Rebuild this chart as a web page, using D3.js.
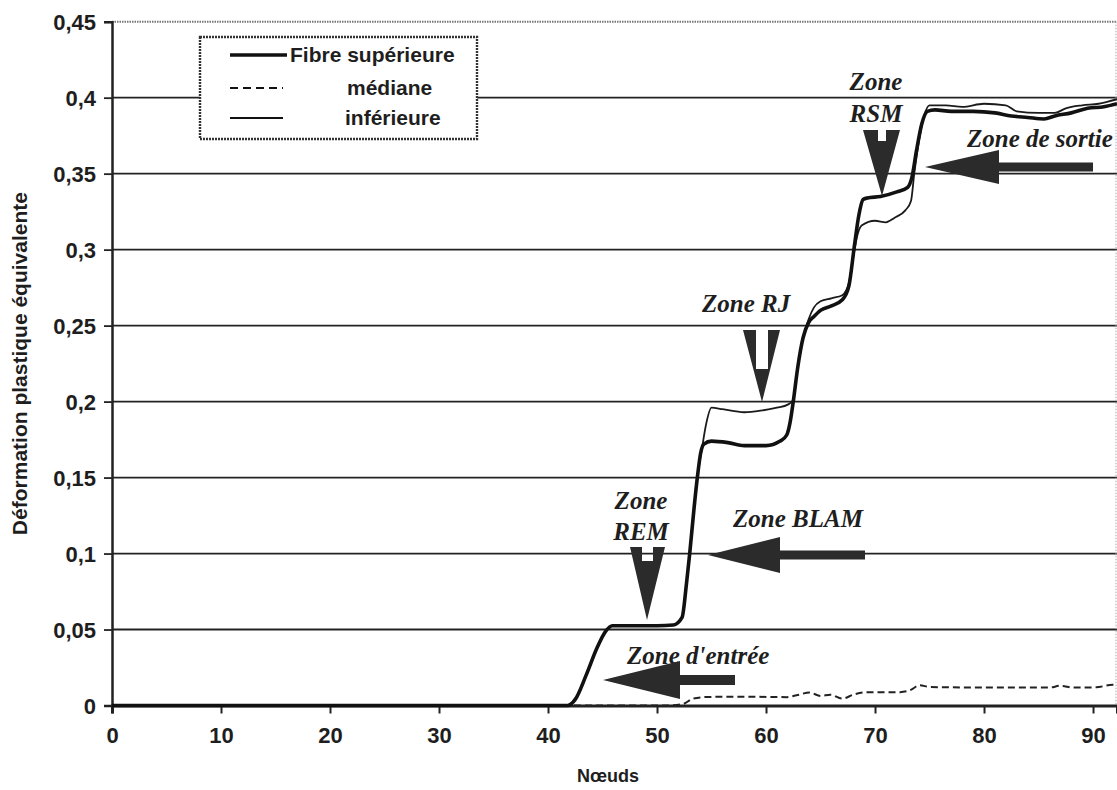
<!DOCTYPE html>
<html>
<head>
<meta charset="utf-8">
<script src="https://cdn.jsdelivr.net/npm/d3@7"></script>
<style>
  html, body { margin: 0; padding: 0; background: #fff; }
  svg { display: block; }
</style>
</head>
<body>
<svg id="chart" width="1117" height="790"></svg>
<script>
// ---------- DATA ----------
const xTicks = [0, 10, 20, 30, 40, 50, 60, 70, 80, 90];
const yTicks = [0, 0.05, 0.1, 0.15, 0.2, 0.25, 0.3, 0.35, 0.4, 0.45];
const yTickLabels = ["0", "0,05", "0,1", "0,15", "0,2", "0,25", "0,3", "0,35", "0,4", "0,45"];

const supNodes = [0, 41.8, 42.5, 43.5, 44.5, 45.3, 45.9, 48, 50, 51.5, 52.3, 52.7, 53.0, 53.4, 53.7, 54.0, 54.3, 55, 56.5, 58, 60, 61.3, 61.9, 62.2, 62.5, 62.9, 63.4, 63.9, 64.4, 65, 66, 67, 67.6, 68.1, 68.5, 68.9, 69.3, 70.5, 72, 73, 73.4, 73.8, 74.3, 74.8, 75.5, 77, 79, 81, 82.5, 84, 85.5, 86.5, 88, 89.5, 91, 92.2];
const supValues = [0, 0, 0.004, 0.02, 0.038, 0.049, 0.0525, 0.0525, 0.0525, 0.053, 0.058, 0.08, 0.1, 0.13, 0.15, 0.166, 0.172, 0.174, 0.173, 0.171, 0.171, 0.174, 0.178, 0.186, 0.2, 0.222, 0.242, 0.252, 0.256, 0.26, 0.263, 0.267, 0.276, 0.302, 0.322, 0.333, 0.334, 0.335, 0.338, 0.341, 0.348, 0.365, 0.383, 0.391, 0.392, 0.391, 0.391, 0.390, 0.388, 0.387, 0.386, 0.388, 0.390, 0.393, 0.394, 0.396];

const infNodes = [0, 41.8, 42.5, 43.5, 44.5, 45.3, 45.9, 48, 50, 51.5, 52.3, 52.7, 53.0, 53.4, 53.7, 54.1, 54.5, 55.0, 56, 58, 59.5, 61, 62, 62.5, 62.9, 63.4, 63.9, 64.4, 65, 66, 67, 67.6, 68.0, 68.4, 68.8, 70, 71, 71.8, 72.8, 73.3, 73.6, 74.0, 74.5, 75.0, 76.5, 78, 80, 82, 83, 85, 86.5, 87.5, 89, 90.5, 92.2];
const infValues = [0, 0, 0.004, 0.02, 0.038, 0.049, 0.0525, 0.0525, 0.0525, 0.053, 0.058, 0.08, 0.1, 0.13, 0.15, 0.168, 0.185, 0.196, 0.195, 0.193, 0.194, 0.196, 0.198, 0.201, 0.222, 0.242, 0.254, 0.262, 0.266, 0.268, 0.27, 0.278, 0.295, 0.31, 0.316, 0.319, 0.318, 0.321, 0.326, 0.332, 0.35, 0.37, 0.388, 0.395, 0.395, 0.394, 0.396, 0.395, 0.391, 0.390, 0.390, 0.393, 0.395, 0.396, 0.399];

const medNodes = [0, 51, 52.4, 53.3, 54.6, 58, 61.9, 62.8, 64, 65, 65.9, 67, 68, 69.2, 72.3, 73.2, 74.1, 75, 80, 86, 87, 88.2, 89, 90.3, 91.8, 92.2];
const medValues = [0, 0, 0.001, 0.0045, 0.0056, 0.0058, 0.0055, 0.0067, 0.0085, 0.0063, 0.0071, 0.0045, 0.0071, 0.0088, 0.0088, 0.01, 0.0133, 0.0122, 0.0118, 0.0118, 0.013, 0.0118, 0.0118, 0.012, 0.0136, 0.0136];

const legendLabels = ["Fibre supérieure", "médiane", "inférieure"];
const yTitle = "Déformation plastique équivalente";
const xTitle = "Nœuds";

// ---------- SETUP ----------
const svg = d3.select("#chart");
const x = d3.scaleLinear().domain([0, 92.2]).range([112, 1117]);
const y = d3.scaleLinear().domain([0, 0.45]).range([705.5, 21.7]);
const INK = "#1e1e1e";
const sansFont = "'Liberation Sans', Arial, sans-serif";
const serifFont = "'Liberation Serif', 'Times New Roman', serif";

// gridlines
svg.append("g").selectAll("line")
  .data(yTicks.filter(d => d > 0 && d < 0.45))
  .join("line")
  .attr("x1", x(0)).attr("x2", 1117)
  .attr("y1", d => y(d)).attr("y2", d => y(d))
  .attr("stroke", "#222").attr("stroke-width", 1.8);

// top border (dotted) & right border
svg.append("line").attr("x1", x(0)).attr("x2", 1117).attr("y1", y(0.45)).attr("y2", y(0.45))
  .attr("stroke", "#777").attr("stroke-width", 2).attr("stroke-dasharray", "1.5,1");
svg.append("line").attr("x1", 1116).attr("x2", 1116).attr("y1", y(0.45)).attr("y2", y(0))
  .attr("stroke", "#aaa").attr("stroke-width", 1).attr("stroke-dasharray", "1.5,1.5");

// axes
const yAxis = d3.axisLeft(y).tickValues(yTicks).tickSize(8).tickPadding(8)
  .tickFormat((d, i) => yTickLabels[i]);
const gy = svg.append("g").attr("transform", `translate(${x(0)},0)`).call(yAxis);
gy.select(".domain").attr("stroke", "#222").attr("stroke-width", 2.5);
gy.selectAll(".tick line").attr("stroke", "#222").attr("stroke-width", 1.8);
gy.selectAll(".tick text").attr("font-family", sansFont).attr("font-weight", "bold")
  .attr("font-size", 22).attr("fill", INK).attr("dy", "0.36em");

const xAxis = d3.axisBottom(x).tickValues(xTicks).tickSize(8).tickPadding(14)
  .tickFormat(d => String(d));
const gx = svg.append("g").attr("transform", `translate(0,${y(0)})`).call(xAxis);
gx.select(".domain").attr("stroke", "#222").attr("stroke-width", 3);
gx.selectAll(".tick line").attr("stroke", "#222").attr("stroke-width", 2);
gx.selectAll(".tick text").attr("font-family", sansFont).attr("font-weight", "bold")
  .attr("font-size", 22).attr("fill", INK);

// axis titles
svg.append("text").attr("x", 608).attr("y", 782).attr("text-anchor", "middle")
  .attr("font-family", sansFont).attr("font-weight", "bold").attr("font-size", 18)
  .attr("fill", INK).text(xTitle);
svg.append("text").attr("transform", `translate(27,${y(0.225)}) rotate(-90)`)
  .attr("text-anchor", "middle")
  .attr("font-family", sansFont).attr("font-weight", "bold").attr("font-size", 21)
  .attr("fill", INK).text(yTitle);

// ---------- LINES ----------
const line = d3.line().x(d => x(d[0])).y(d => y(d[1])).curve(d3.curveMonotoneX);
const plot = svg.append("g");
plot.append("path").datum(d3.zip(medNodes, medValues)).attr("d", line)
  .attr("fill", "none").attr("stroke", "#222").attr("stroke-width", 2)
  .attr("stroke-dasharray", "7,4");
plot.append("path").datum(d3.zip(infNodes, infValues)).attr("d", line)
  .attr("fill", "none").attr("stroke", "#1a1a1a").attr("stroke-width", 1.8);
plot.append("path").datum(d3.zip(supNodes, supValues)).attr("d", line)
  .attr("fill", "none").attr("stroke", "#111").attr("stroke-width", 3.6);

// ---------- LEGEND ----------
const lg = svg.append("g");
lg.append("rect").attr("x", 200).attr("y", 37).attr("width", 277).attr("height", 102)
  .attr("fill", "#fff").attr("stroke", "#333").attr("stroke-width", 2.4)
  .attr("stroke-dasharray", "2,1");
const legendStyles = [
  {w: 3.6, dash: null, x2: 287, tx: 290, ly: 55},
  {w: 2, dash: "8,5", x2: 283, tx: 347, ly: 88},
  {w: 1.8, dash: null, x2: 283, tx: 345, ly: 118}
];
legendLabels.forEach((lab, i) => {
  const s = legendStyles[i];
  lg.append("line").attr("x1", 230).attr("x2", s.x2).attr("y1", s.ly).attr("y2", s.ly)
    .attr("stroke", "#111").attr("stroke-width", s.w).attr("stroke-dasharray", s.dash);
  lg.append("text").attr("x", s.tx).attr("y", s.ly + 7)
    .attr("font-family", sansFont).attr("font-weight", "bold").attr("font-size", 21)
    .attr("fill", INK).text(lab);
});

// ---------- ANNOTATIONS ----------
const ARROW = "#2b2b2b";
const ann = svg.append("g");
function leftArrow(tipX, cy, headX, headH, endX, shaftH) {
  ann.append("path")
    .attr("d", `M${tipX},${cy} L${headX},${cy - headH} L${headX},${cy - shaftH} L${endX},${cy - shaftH} L${endX},${cy + shaftH} L${headX},${cy + shaftH} L${headX},${cy + headH} Z`)
    .attr("fill", ARROW);
}
function downArrow(x0, x1, top, tipX, tipY, nx0, nx1, ny) {
  ann.append("path")
    .attr("d", `M${x0},${top} L${nx0},${top} L${nx0},${ny} L${nx1},${ny} L${nx1},${top} L${x1},${top} L${tipX},${tipY} Z`)
    .attr("fill", ARROW);
}
function label(txt, tx, ty, anchor) {
  ann.append("text").attr("x", tx).attr("y", ty).attr("text-anchor", anchor || "start")
    .attr("font-family", serifFont).attr("font-weight", "bold").attr("font-style", "italic")
    .attr("font-size", 25).attr("fill", INK).text(txt);
}
// Zone d'entrée
label("Zone d'entrée", 627, 664);
leftArrow(603, 680, 680, 19, 735, 5);
// Zone REM
label("Zone", 641, 509, "middle");
label("REM", 641, 540, "middle");
downArrow(630, 665, 547, 647, 620, 642, 653, 561);
// Zone BLAM
label("Zone BLAM", 733, 527);
leftArrow(708, 555, 780, 18, 865, 4.5);
// Zone RJ
label("Zone RJ", 702, 312);
downArrow(743, 780, 330, 762, 402, 756, 768, 369);
// Zone RSM
label("Zone", 876, 90, "middle");
label("RSM", 876, 122, "middle");
downArrow(863, 900, 130, 882, 196, 878, 886, 141);
// Zone de sortie
label("Zone de sortie", 967, 147);
leftArrow(925, 167, 999, 17, 1093, 4.5);
</script>
</body>
</html>
